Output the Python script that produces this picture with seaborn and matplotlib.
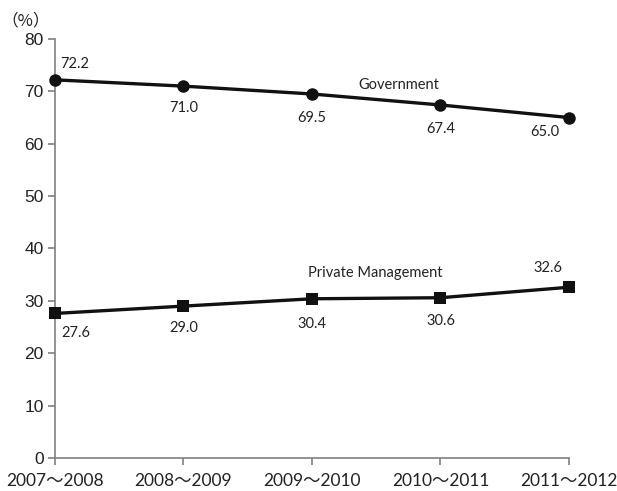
import matplotlib
matplotlib.use("Agg")
import matplotlib.pyplot as plt
import seaborn as sns
import pandas as pd

periods = ["2007〜2008", "2008〜2009", "2009〜2010", "2010〜2011", "2011〜2012"]
government = [72.2, 71.0, 69.5, 67.4, 65.0]
private_mgmt = [27.6, 29.0, 30.4, 30.6, 32.6]
y_ticks = [0, 10, 20, 30, 40, 50, 60, 70, 80]

sns.set_theme(style="white")
plt.rcParams["font.family"] = ["Liberation Sans", "DejaVu Sans"]

df = pd.DataFrame({"period": periods, "idx": range(len(periods)),
                   "Government": government, "Private Management": private_mgmt})

fig = plt.figure(figsize=(6.17, 4.91), dpi=100)
ax = fig.add_axes([0.0891, 0.0672, 0.8331, 0.8534])

line_kw = dict(color="#111111", linewidth=2.4, clip_on=False, zorder=3)
sns.lineplot(data=df, x="idx", y="Government", marker="o", markersize=9,
             markeredgewidth=0, ax=ax, **line_kw)
sns.lineplot(data=df, x="idx", y="Private Management", marker="s", markersize=8.5,
             markeredgewidth=0, ax=ax, **line_kw)

ax.set_xlim(0, len(periods) - 1)
ax.set_ylim(0, 80)
ax.set_xticks(df["idx"])
ax.set_xticklabels(periods, fontsize=12.5, family=["Lato", "Noto Sans CJK JP"],
                   color="#222222")
ax.set_yticks(y_ticks)
ax.set_yticklabels([str(v) for v in y_ticks], fontsize=12.5, color="#222222")
ax.set_xlabel("")
ax.set_ylabel("")

for side in ("top", "right"):
    ax.spines[side].set_visible(False)
for side in ("left", "bottom"):
    ax.spines[side].set_color("#808080")
    ax.spines[side].set_linewidth(1.2)
ax.tick_params(axis="both", direction="out", length=5, width=1.2, color="#808080",
               left=True, bottom=True)
ax.tick_params(axis="y", pad=3)
ax.tick_params(axis="x", pad=6)

ann_font = dict(fontsize=10.5, family=["Lato", "DejaVu Sans"], color="#222222")

# value labels, offsets in pixels from each point
gov_offsets = [(20, 16), (0, -22), (0, -24), (0, -24), (-24, -14)]
priv_offsets = [(21, -20), (0, -22), (0, -25), (0, -23), (-21, 19)]
for i, (v, off) in enumerate(zip(government, gov_offsets)):
    ax.annotate(f"{v:.1f}", (i, v), xytext=off, textcoords="offset pixels",
                ha="center", va="center", **ann_font)
for i, (v, off) in enumerate(zip(private_mgmt, priv_offsets)):
    ax.annotate(f"{v:.1f}", (i, v), xytext=off, textcoords="offset pixels",
                ha="center", va="center", **ann_font)

ax.text(2.677, 71.2, "Government", ha="center", va="center", **ann_font)
ax.text(2.494, 35.3, "Private Management", ha="center", va="center", **ann_font)

fig.text(0.041, 0.957, "（%）", ha="center", va="center", fontsize=12,
         family=["Noto Sans CJK JP"], color="#222222")

fig.savefig("out.png", dpi=100)
